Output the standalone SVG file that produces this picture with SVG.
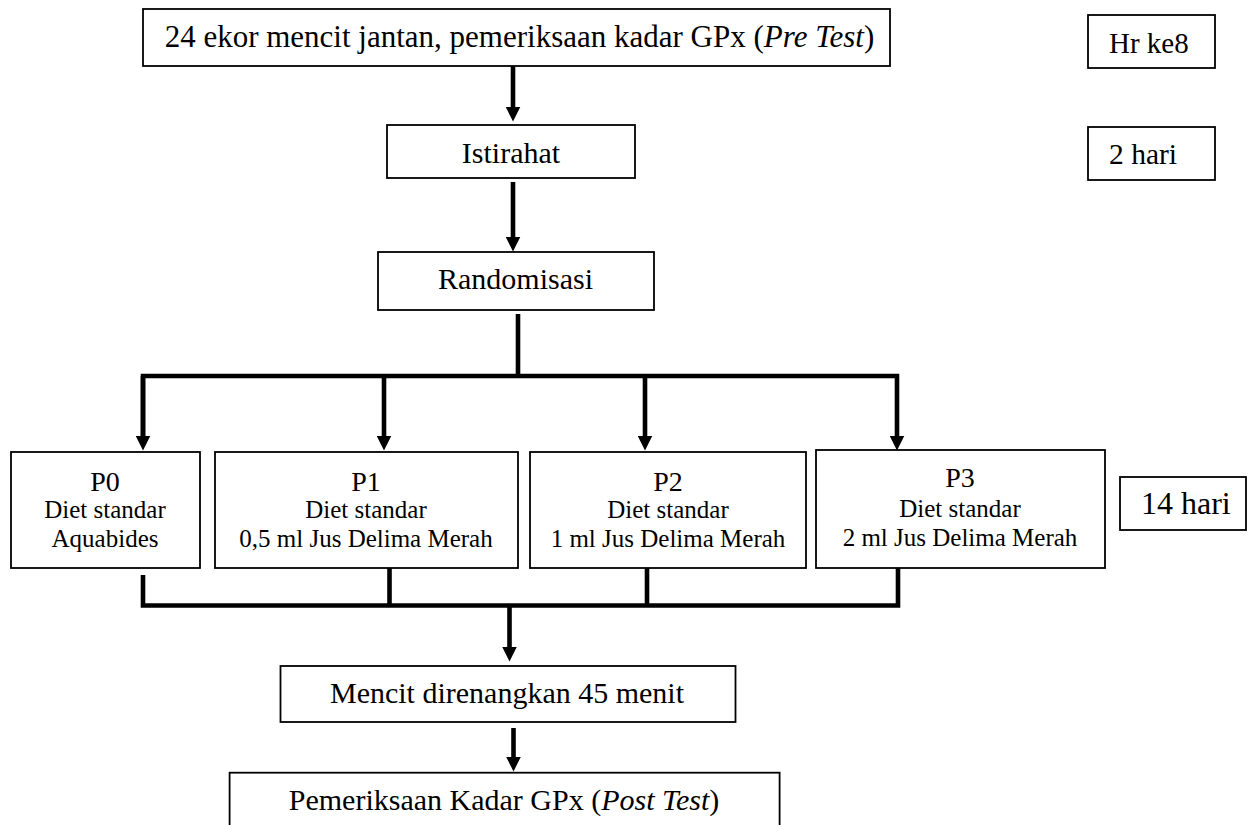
<svg xmlns="http://www.w3.org/2000/svg" width="1249" height="825" viewBox="0 0 1249 825">
<style>
.box{fill:#fff;stroke:#000;stroke-width:1.8}
.t{font-family:"Liberation Serif","Times New Roman",serif;fill:#000}
.m{font-size:30px;text-anchor:middle}
.p{font-size:28px;text-anchor:middle}
.s{font-size:25px;text-anchor:middle}
.c{fill:none;stroke:#000;stroke-width:4.6;stroke-linejoin:miter;stroke-linecap:butt}
.i{font-style:italic}
</style>
<defs>
<marker id="ah" viewBox="0 0 15 15" markerWidth="15" markerHeight="15" markerUnits="userSpaceOnUse" refX="0.5" refY="7.5" orient="auto">
<path d="M0,0 L15,7.5 L0,15 z" fill="#000"/>
</marker>
</defs>
<rect width="1249" height="825" fill="#fff"/>
<g id="connectors">
<line class="c" x1="513" y1="66" x2="513" y2="107" marker-end="url(#ah)"/>
<line class="c" x1="513" y1="182" x2="513" y2="237" marker-end="url(#ah)"/>
<line class="c" x1="518" y1="314" x2="518" y2="376"/>
<polyline class="c" points="143,436 143,376 897,376 897,436" marker-end="url(#ah)"/>
<line class="c" x1="143" y1="376" x2="143" y2="436" marker-end="url(#ah)"/>
<line class="c" x1="384" y1="376" x2="384" y2="436" marker-end="url(#ah)"/>
<line class="c" x1="645" y1="376" x2="645" y2="436" marker-end="url(#ah)"/>
<polyline class="c" points="143,575 143,605.5 898,605.5 898,568"/>
<line class="c" x1="389.5" y1="568" x2="389.5" y2="605.5"/>
<line class="c" x1="647" y1="568" x2="647" y2="605.5"/>
<line class="c" x1="509.5" y1="605.5" x2="509.5" y2="647" marker-end="url(#ah)"/>
<line class="c" x1="513.5" y1="728" x2="513.5" y2="757" marker-end="url(#ah)"/>
</g>
<g id="pretest">
<rect class="box" x="143" y="9" width="747" height="57"/>
<text class="t m" x="519.5" y="47" style="font-size:31px">24 ekor mencit jantan, pemeriksaan kadar GPx (<tspan class="i">Pre Test</tspan>)</text>
</g>
<g id="istirahat">
<rect class="box" x="387" y="125" width="248" height="53"/>
<text class="t m" x="511" y="163">Istirahat</text>
</g>
<g id="randomisasi">
<rect class="box" x="378" y="252" width="276" height="58"/>
<text class="t m" x="515.5" y="289">Randomisasi</text>
</g>
<g id="p0">
<rect class="box" x="11" y="452" width="189" height="116"/>
<text class="t p" x="105" y="491">P0</text>
<text class="t s" x="105" y="518">Diet standar</text>
<text class="t s" x="105" y="547">Aquabides</text>
</g>
<g id="p1">
<rect class="box" x="215" y="452" width="303" height="116"/>
<text class="t p" x="366" y="491">P1</text>
<text class="t s" x="366" y="518">Diet standar</text>
<text class="t s" x="366" y="547">0,5 ml Jus Delima Merah</text>
</g>
<g id="p2">
<rect class="box" x="530" y="452" width="276" height="116"/>
<text class="t p" x="668" y="491">P2</text>
<text class="t s" x="668" y="518">Diet standar</text>
<text class="t s" x="668" y="547">1 ml Jus Delima Merah</text>
</g>
<g id="p3">
<rect class="box" x="816" y="450" width="289" height="118"/>
<text class="t p" x="960" y="487">P3</text>
<text class="t s" x="960" y="517">Diet standar</text>
<text class="t s" x="960" y="546">2 ml Jus Delima Merah</text>
</g>
<g id="mencit">
<rect class="box" x="280.5" y="666" width="455" height="56"/>
<text class="t m" x="507" y="703">Mencit direnangkan 45 menit</text>
</g>
<g id="posttest">
<rect class="box" x="229.6" y="772.7" width="550" height="70"/>
<text class="t m" x="504" y="810">Pemeriksaan Kadar GPx (<tspan class="i">Post Test</tspan>)</text>
</g>
<g id="hrke8">
<rect class="box" x="1088" y="15" width="127" height="53"/>
<text class="t" x="1109" y="53" font-size="29">Hr ke8</text>
</g>
<g id="duahari">
<rect class="box" x="1088" y="127" width="127" height="53"/>
<text class="t" x="1109" y="164" font-size="29.5">2 hari</text>
</g>
<g id="empatbelashari">
<rect class="box" x="1120" y="477" width="126" height="53"/>
<text class="t" x="1141" y="514" font-size="32">14 hari</text>
</g>
</svg>
